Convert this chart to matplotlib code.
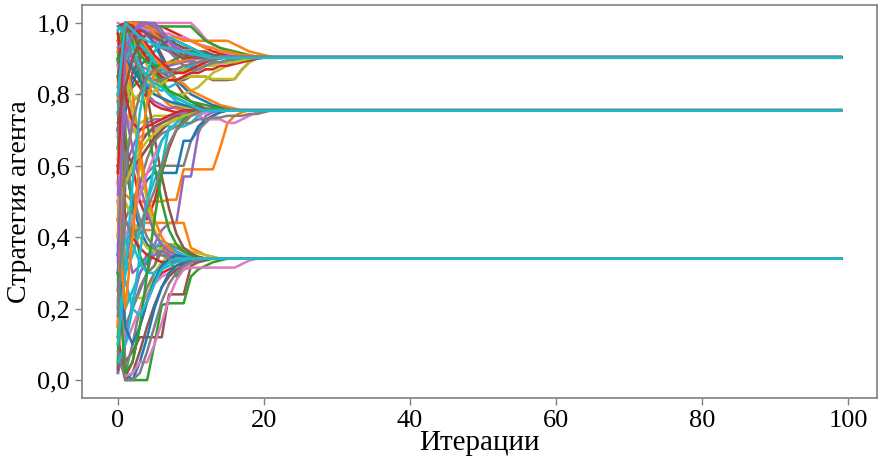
import numpy as np
import matplotlib
matplotlib.use("Agg")
import matplotlib.pyplot as plt

n_iter = 100
x_ticks = [0, 20, 40, 60, 80, 100]
y_ticks = [0.0, 0.2, 0.4, 0.6, 0.8, 1.0]
y_tick_labels = ["0,0", "0,2", "0,4", "0,6", "0,8", "1,0"]
x_label = "Итерации"
y_label = "Стратегия агента"

# Agent strategy paths (value per iteration, held at the last value afterwards)
top_paths = [
    [0.02, 1.0, 1.0, 0.99, 0.98, 0.97, 0.96, 0.95, 0.94, 0.93, 0.92, 0.915, 0.91, 0.905, 0.903],
    [0.55, 0.98, 1.0, 1.0, 1.0, 0.99, 0.99, 0.98, 0.97, 0.96, 0.95, 0.94, 0.93, 0.92, 0.915, 0.91, 0.907, 0.905, 0.903],
    [0.9, 0.97, 0.99, 1.0, 1.0, 1.0, 1.0, 1.0, 1.0, 1.0, 1.0, 0.98, 0.955, 0.94, 0.93, 0.92, 0.915, 0.91, 0.905, 0.903],
    [0.3, 0.85, 0.95, 0.99, 1.0, 0.98, 0.96, 0.95, 0.93, 0.92, 0.91, 0.905, 0.903],
    [0.78, 0.8, 0.82, 0.84, 0.85, 0.86, 0.87, 0.88, 0.89, 0.895, 0.9, 0.903],
    [0.12, 0.7, 0.78, 0.8, 0.82, 0.83, 0.84, 0.84, 0.84, 0.84, 0.85, 0.85, 0.85, 0.84, 0.84, 0.84, 0.843, 0.87, 0.89, 0.9, 0.903],
    [0.65, 0.88, 0.86, 0.85, 0.84, 0.83, 0.83, 0.84, 0.84, 0.845, 0.85, 0.85, 0.85, 0.843, 0.843, 0.843, 0.843, 0.87, 0.89, 0.9, 0.903],
    [0.45, 1.0, 0.99, 0.98, 0.97, 0.97, 0.96, 0.96, 0.96, 0.955, 0.95, 0.95, 0.95, 0.95, 0.95, 0.95, 0.94, 0.93, 0.92, 0.915, 0.91, 0.905, 0.903],
    [0.97, 0.93, 0.9, 0.88, 0.87, 0.86, 0.87, 0.88, 0.885, 0.89, 0.895, 0.9, 0.903],
    [0.88, 1.0, 0.98, 0.95, 0.92, 0.9, 0.88, 0.87, 0.87, 0.88, 0.88, 0.89, 0.89, 0.895, 0.9, 0.903],
    [0.2, 0.95, 1.0, 0.97, 0.93, 0.89, 0.86, 0.85, 0.86, 0.87, 0.875, 0.88, 0.88, 0.885, 0.89, 0.895, 0.9, 0.903],
    [0.7, 0.92, 0.96, 0.98, 0.97, 0.96, 0.94, 0.93, 0.92, 0.91, 0.91, 0.905, 0.903],
    [1.0, 0.99, 0.98, 0.97, 0.96, 0.95, 0.95, 0.94, 0.93, 0.93, 0.92, 0.92, 0.915, 0.91, 0.905, 0.903],
    [0.35, 0.9, 0.88, 0.86, 0.83, 0.82, 0.81, 0.82, 0.83, 0.85, 0.86, 0.87, 0.88, 0.88, 0.89, 0.89, 0.895, 0.9, 0.903],
    [0.95, 1.0, 1.0, 1.0, 1.0, 0.99, 0.99, 0.99, 0.99, 0.99, 0.99, 0.97, 0.95, 0.94, 0.93, 0.925, 0.92, 0.915, 0.91, 0.905, 0.903],
    [0.6, 0.78, 0.86, 0.9, 0.92, 0.94, 0.93, 0.92, 0.91, 0.905, 0.903],
    [0.1, 0.98, 0.96, 0.92, 0.88, 0.85, 0.83, 0.81, 0.8, 0.8, 0.81, 0.82, 0.84, 0.86, 0.87, 0.88, 0.89, 0.895, 0.9, 0.903],
    [0.82, 0.96, 0.99, 1.0, 0.99, 0.97, 0.95, 0.93, 0.91, 0.9, 0.9, 0.903],
    [0.5, 0.99, 1.0, 1.0, 0.98, 0.96, 0.94, 0.92, 0.9, 0.88, 0.87, 0.87, 0.88, 0.88, 0.89, 0.89, 0.9, 0.9, 0.903],
    [0.92, 0.87, 0.89, 0.91, 0.93, 0.94, 0.94, 0.93, 0.93, 0.92, 0.92, 0.91, 0.91, 0.905, 0.903],
    [0.25, 0.75, 0.83, 0.88, 0.9, 0.92, 0.94, 0.95, 0.95, 0.94, 0.93, 0.92, 0.915, 0.91, 0.905, 0.903],
    [0.99, 1.0, 0.97, 0.93, 0.9, 0.87, 0.85, 0.84, 0.84, 0.85, 0.86, 0.86, 0.87, 0.87, 0.88, 0.88, 0.885, 0.89, 0.895, 0.9, 0.903],
    [0.4, 1.0, 1.0, 0.99, 0.98, 0.98, 0.97, 0.97, 0.96, 0.96, 0.95, 0.94, 0.935, 0.93, 0.92, 0.915, 0.91, 0.905, 0.903],
    [0.75, 0.9, 0.93, 0.94, 0.92, 0.89, 0.87, 0.86, 0.86, 0.87, 0.88, 0.89, 0.89, 0.9, 0.903],
    [0.05, 0.95, 0.93, 0.91, 0.89, 0.88, 0.88, 0.89, 0.9, 0.91, 0.92, 0.92, 0.91, 0.91, 0.905, 0.903],
    [0.85, 0.97, 1.0, 1.0, 0.99, 0.98, 0.96, 0.95, 0.94, 0.93, 0.93, 0.92, 0.92, 0.91, 0.91, 0.905, 0.905, 0.903],
    [0.62, 0.85, 0.8, 0.78, 0.79, 0.81, 0.83, 0.85, 0.86, 0.87, 0.87, 0.88, 0.88, 0.88, 0.89, 0.89, 0.89, 0.895, 0.9, 0.903],
    [0.15, 1.0, 1.0, 1.0, 0.99, 0.98, 0.97, 0.96, 0.96, 0.95, 0.95, 0.94, 0.93, 0.93, 0.92, 0.92, 0.915, 0.91, 0.91, 0.905, 0.905, 0.903],
    [0.93, 0.95, 0.97, 0.99, 1.0, 1.0, 0.98, 0.95, 0.92, 0.9, 0.89, 0.89, 0.9, 0.903],
    [0.68, 0.95, 0.91, 0.87, 0.85, 0.84, 0.84, 0.85, 0.86, 0.86, 0.87, 0.87, 0.88, 0.89, 0.89, 0.895, 0.9, 0.903],
    [0.1, 0.3, 0.55, 0.75, 0.86, 0.92, 0.95, 0.96, 0.95, 0.94, 0.93, 0.92, 0.91, 0.905, 0.903],
    [0.45, 0.2, 0.4, 0.62, 0.78, 0.86, 0.88, 0.89, 0.89, 0.895, 0.9, 0.903],
    [0.58, 1.0, 0.99, 0.97, 0.94, 0.91, 0.89, 0.87, 0.86, 0.86, 0.87, 0.88, 0.89, 0.9, 0.903],
    [0.33, 0.92, 0.97, 1.0, 1.0, 0.99, 0.97, 0.95, 0.93, 0.92, 0.91, 0.905, 0.903],
    [0.72, 0.82, 0.9, 0.95, 0.97, 0.96, 0.95, 0.93, 0.91, 0.9, 0.903],
    [0.18, 0.6, 0.72, 0.8, 0.85, 0.87, 0.86, 0.86, 0.87, 0.88, 0.885, 0.89, 0.895, 0.9, 0.906],
    [0.8, 1.0, 0.98, 0.96, 0.95, 0.94, 0.93, 0.93, 0.92, 0.92, 0.915, 0.91, 0.905, 0.902],
]

mid_paths = [
    [0.55, 0.52, 0.5, 0.5, 0.5, 0.5, 0.5, 0.505, 0.505, 0.59, 0.59, 0.59, 0.59, 0.59, 0.65, 0.72, 0.74, 0.75, 0.755],
    [0.3, 0.15, 0.2, 0.25, 0.3, 0.38, 0.42, 0.44, 0.44, 0.57, 0.57, 0.69, 0.74, 0.75, 0.755],
    [0.7, 0.45, 0.5, 0.55, 0.58, 0.6, 0.6, 0.6, 0.6, 0.6, 0.67, 0.7, 0.72, 0.74, 0.75, 0.755],
    [0.9, 0.6, 0.5, 0.52, 0.56, 0.58, 0.58, 0.58, 0.58, 0.67, 0.67, 0.71, 0.73, 0.74, 0.75, 0.755],
    [0.6, 0.6, 0.6, 0.5, 0.45, 0.5, 0.58, 0.65, 0.7, 0.72, 0.74, 0.75, 0.755],
    [0.8, 0.95, 0.9, 0.86, 0.82, 0.8, 0.79, 0.78, 0.77, 0.76, 0.75, 0.74, 0.73, 0.73, 0.73, 0.72, 0.72, 0.73, 0.74, 0.75, 0.755],
    [0.98, 1.0, 0.98, 0.94, 0.9, 0.86, 0.83, 0.8, 0.78, 0.77, 0.76, 0.755],
    [0.4, 0.95, 1.0, 0.97, 0.93, 0.88, 0.84, 0.81, 0.79, 0.78, 0.77, 0.765, 0.76, 0.755],
    [0.82, 0.99, 1.0, 1.0, 0.98, 0.95, 0.91, 0.87, 0.83, 0.8, 0.78, 0.77, 0.76, 0.76, 0.755],
    [0.2, 0.65, 0.7, 0.72, 0.73, 0.74, 0.74, 0.74, 0.745, 0.75, 0.755],
    [0.58, 0.85, 0.9, 0.88, 0.85, 0.82, 0.79, 0.77, 0.76, 0.755],
    [0.95, 0.92, 0.88, 0.84, 0.8, 0.78, 0.77, 0.76, 0.765, 0.76, 0.755],
    [0.1, 0.3, 0.45, 0.55, 0.62, 0.67, 0.7, 0.72, 0.73, 0.74, 0.745, 0.75, 0.755],
    [0.7, 1.0, 1.0, 0.99, 0.97, 0.94, 0.9, 0.87, 0.84, 0.82, 0.8, 0.79, 0.78, 0.77, 0.765, 0.76, 0.755],
    [0.35, 0.8, 0.85, 0.82, 0.79, 0.77, 0.76, 0.755, 0.75, 0.75, 0.755],
    [0.88, 0.75, 0.7, 0.68, 0.69, 0.7, 0.72, 0.73, 0.74, 0.745, 0.75, 0.755],
    [0.45, 0.3, 0.35, 0.42, 0.5, 0.56, 0.6, 0.71, 0.71, 0.71, 0.72, 0.74, 0.75, 0.755],
    [0.65, 0.95, 0.97, 0.96, 0.92, 0.87, 0.83, 0.81, 0.8, 0.79, 0.78, 0.775, 0.77, 0.765, 0.76, 0.755],
    [0.03, 0.55, 0.62, 0.66, 0.69, 0.71, 0.72, 0.73, 0.74, 0.74, 0.745, 0.75, 0.755],
    [0.5, 0.7, 0.78, 0.8, 0.81, 0.8, 0.79, 0.78, 0.77, 0.765, 0.76, 0.755],
    [0.92, 1.0, 0.99, 0.96, 0.93, 0.9, 0.88, 0.86, 0.84, 0.83, 0.81, 0.8, 0.79, 0.78, 0.77, 0.765, 0.76, 0.755],
    [0.28, 0.6, 0.65, 0.7, 0.72, 0.73, 0.73, 0.74, 0.745, 0.75, 0.755],
    [0.75, 0.55, 0.58, 0.62, 0.65, 0.67, 0.69, 0.7, 0.71, 0.72, 0.72, 0.73, 0.73, 0.735, 0.735, 0.74, 0.74, 0.74, 0.745, 0.745, 0.75, 0.755],
    [0.15, 0.9, 0.87, 0.84, 0.82, 0.8, 0.79, 0.78, 0.775, 0.77, 0.765, 0.76, 0.755],
    [0.97, 0.8, 0.72, 0.7, 0.71, 0.72, 0.73, 0.74, 0.75, 0.755],
    [0.62, 0.4, 0.45, 0.52, 0.58, 0.63, 0.67, 0.7, 0.72, 0.73, 0.74, 0.745, 0.75, 0.755],
    [0.05, 0.1, 0.2, 0.35, 0.5, 0.6, 0.67, 0.7, 0.72, 0.74, 0.75, 0.755],
    [0.3, 0.02, 0.05, 0.15, 0.3, 0.45, 0.58, 0.66, 0.7, 0.73, 0.745, 0.755],
    [0.85, 0.65, 0.6, 0.62, 0.65, 0.68, 0.7, 0.72, 0.73, 0.74, 0.75, 0.755],
    [0.48, 0.55, 0.6, 0.64, 0.67, 0.69, 0.71, 0.72, 0.73, 0.74, 0.745, 0.75, 0.755],
    [0.22, 0.45, 0.4, 0.43, 0.48, 0.53, 0.6, 0.66, 0.7, 0.72, 0.74, 0.75, 0.757],
    [0.99, 0.97, 0.93, 0.88, 0.85, 0.83, 0.82, 0.8, 0.79, 0.78, 0.77, 0.76, 0.754],
]

low_paths = [
    [0.9, 0.0, 0.0, 0.0, 0.0, 0.1, 0.21, 0.215, 0.215, 0.215, 0.29, 0.31, 0.32, 0.33, 0.335, 0.34],
    [0.5, 0.05, 0.08, 0.12, 0.12, 0.12, 0.12, 0.24, 0.24, 0.24, 0.32, 0.33, 0.335, 0.34],
    [0.23, 0.23, 0.23, 0.23, 0.23, 0.3, 0.33, 0.35, 0.34, 0.34],
    [0.05, 0.35, 0.42, 0.44, 0.44, 0.44, 0.44, 0.44, 0.44, 0.44, 0.37, 0.36, 0.35, 0.345, 0.34],
    [0.98, 0.4, 0.3, 0.32, 0.35, 0.37, 0.38, 0.37, 0.36, 0.35, 0.345, 0.34],
    [0.8, 0.02, 0.1, 0.2, 0.26, 0.3, 0.32, 0.33, 0.335, 0.34],
    [0.3, 0.6, 0.5, 0.42, 0.38, 0.36, 0.35, 0.345, 0.34],
    [0.12, 0.01, 0.05, 0.15, 0.22, 0.27, 0.3, 0.31, 0.32, 0.325, 0.33, 0.335, 0.34],
    [0.7, 0.1, 0.15, 0.2, 0.24, 0.27, 0.29, 0.3, 0.305, 0.31, 0.315, 0.315, 0.315, 0.315, 0.315, 0.315, 0.315, 0.325, 0.335, 0.34],
    [0.45, 0.2, 0.25, 0.3, 0.34, 0.37, 0.39, 0.38, 0.36, 0.35, 0.345, 0.34],
    [0.92, 0.7, 0.45, 0.35, 0.3, 0.32, 0.38, 0.35, 0.29, 0.31, 0.33, 0.34],
    [0.6, 0.0, 0.02, 0.08, 0.15, 0.21, 0.26, 0.29, 0.31, 0.32, 0.33, 0.335, 0.34],
    [0.15, 0.5, 0.45, 0.4, 0.37, 0.36, 0.37, 0.38, 0.38, 0.37, 0.36, 0.355, 0.35, 0.345, 0.34],
    [0.85, 0.3, 0.35, 0.42, 0.42, 0.42, 0.38, 0.34, 0.33, 0.33, 0.335, 0.34],
    [0.02, 0.1, 0.22, 0.3, 0.33, 0.35, 0.36, 0.35, 0.345, 0.34],
    [0.65, 0.15, 0.2, 0.26, 0.3, 0.32, 0.36, 0.38, 0.37, 0.36, 0.35, 0.345, 0.34],
    [0.38, 0.02, 0.0, 0.05, 0.12, 0.2, 0.26, 0.3, 0.32, 0.33, 0.335, 0.34],
    [0.75, 0.45, 0.4, 0.37, 0.35, 0.34, 0.33, 0.33, 0.335, 0.34],
    [0.55, 0.01, 0.02, 0.05, 0.05, 0.1, 0.16, 0.23, 0.28, 0.31, 0.33, 0.34],
    [0.25, 0.4, 0.38, 0.33, 0.3, 0.3, 0.31, 0.32, 0.33, 0.335, 0.34],
    [0.9, 1.0, 0.95, 0.85, 0.72, 0.6, 0.5, 0.42, 0.38, 0.36, 0.35, 0.345, 0.34],
    [0.7, 0.98, 1.0, 0.9, 0.8, 0.68, 0.57, 0.48, 0.41, 0.37, 0.355, 0.345, 0.34],
    [0.4, 0.85, 0.75, 0.62, 0.5, 0.42, 0.38, 0.36, 0.35, 0.345, 0.34],
    [0.95, 0.9, 0.8, 0.65, 0.52, 0.45, 0.4, 0.37, 0.35, 0.34],
    [0.52, 0.75, 0.65, 0.55, 0.47, 0.41, 0.38, 0.36, 0.35, 0.345, 0.34],
    [0.08, 0.0, 0.0, 0.02, 0.08, 0.15, 0.22, 0.27, 0.3, 0.32, 0.33, 0.335, 0.34],
    [0.35, 0.15, 0.1, 0.15, 0.22, 0.28, 0.32, 0.34, 0.35, 0.345, 0.34],
    [0.78, 0.62, 0.52, 0.45, 0.4, 0.37, 0.35, 0.34, 0.335, 0.341],
    [0.18, 0.28, 0.2, 0.18, 0.22, 0.27, 0.31, 0.33, 0.34],
]

plt.rcParams['font.family'] = ['Liberation Serif', 'DejaVu Serif']

fig = plt.figure(figsize=(8.79, 4.59), dpi=100)
ax = fig.add_axes([0.093, 0.133, 0.905, 0.856])

iters = np.arange(n_iter)
groups = (top_paths, mid_paths, low_paths)
n_max = max(len(g) for g in groups)
draw = []
for i in range(n_max):
    for g in groups:
        if i < len(g):
            draw.append((g, i))

for k, (g, i) in enumerate(draw):
    p = g[i]
    vals = np.array(p + [p[-1]] * (n_iter - len(p)))
    if i == len(g) - 1:
        col = "C9"
    elif i == len(g) - 2:
        col = "C7"
    else:
        col = f"C{k % 10}"
    ax.plot(iters, vals, lw=1.8, color=col)

ax.set_xticks(x_ticks)
ax.set_yticks(y_ticks)
ax.set_yticklabels(y_tick_labels)
ax.set_xlabel(x_label, fontsize=21, labelpad=-1)
ax.set_ylabel(y_label, fontsize=20, labelpad=4)
ax.tick_params(labelsize=19, length=5, width=1, color='#808080', direction='out')
for s in ax.spines.values():
    s.set_color('#808080')
    s.set_linewidth(1.2)

fig.savefig("out.png", dpi=100)
